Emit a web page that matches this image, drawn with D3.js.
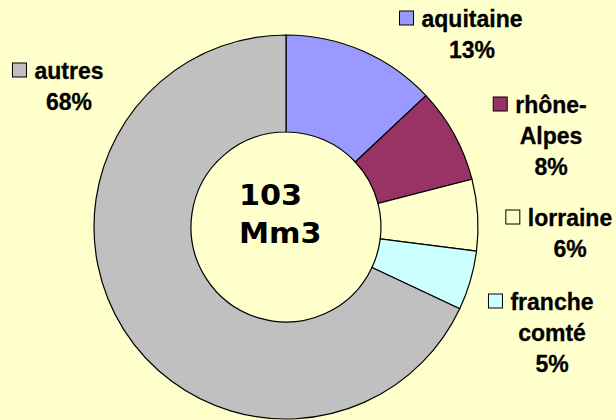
<!DOCTYPE html>
<html>
<head>
<meta charset="utf-8">
<script src="https://cdn.jsdelivr.net/npm/d3@7"></script>
<style>
    html, body { margin: 0; padding: 0; background: #ffffcc; }
    svg { display: block; }
    .lbl { font-family: "Liberation Sans", Arial, sans-serif; font-weight: bold; font-size: 23px; fill: #000; stroke: #000; stroke-width: 0.3px; }
    .total { font-family: "DejaVu Sans", Verdana, sans-serif; font-weight: bold; font-size: 28px; fill: #000; }
</style>
</head>
<body>
<svg width="616" height="420"></svg>
<script>
// data
var regions = ["aquitaine", "rhône-Alpes", "lorraine", "franche comté", "autres"];
var shares = [13, 8, 6, 5, 68];
var colors = ["#9999ff", "#993366", "#ffffcc", "#ccffff", "#c0c0c0"];
var labelLines = [["aquitaine"], ["rhône-", "Alpes"], ["lorraine"], ["franche", "comté"], ["autres"]];
var totalLines = ["103", "Mm3"];

// label placement (center x, first baseline)
var labelPos = [[472, 27], [551, 113], [570, 226], [552, 310], [69, 79]];

var svg = d3.select("svg");
var cx = 286, cy = 227;

var pie = d3.pie().sort(null).value(function (d) { return d; });
var arc = d3.arc().innerRadius(95).outerRadius(192);

var g = svg.append("g").attr("transform", "translate(" + cx + "," + cy + ")");
g.selectAll("path")
    .data(pie(shares))
    .enter()
    .append("path")
    .attr("d", arc)
    .attr("fill", function (d, i) { return colors[i]; })
    .attr("stroke", "#000")
    .attr("stroke-width", 1.2);

// labels
var lineH = 31;
regions.forEach(function (r, i) {
    var p = labelPos[i];
    var lines = labelLines[i].concat([shares[i] + "%"]);
    var lg = svg.append("g");
    var first;
    lines.forEach(function (t, j) {
        var txt = lg.append("text")
            .attr("class", "lbl")
            .attr("x", p[0])
            .attr("y", p[1] + j * lineH)
            .attr("text-anchor", "middle")
            .text(t);
        if (j === 0) first = txt;
    });
    var w = first.node().getComputedTextLength();
    lg.append("rect")
        .attr("x", p[0] - w / 2 - 22)
        .attr("y", p[1] - 16)
        .attr("width", 14)
        .attr("height", 14)
        .attr("fill", colors[i])
        .attr("stroke", "#000")
        .attr("stroke-width", 1);
});

// total in the hole
totalLines.forEach(function (t, j) {
    svg.append("text")
        .attr("class", "total")
        .attr("transform", "translate(239," + (205 + j * 38) + ") scale(1.08,1)")
        .text(t);
});
</script>
</body>
</html>
